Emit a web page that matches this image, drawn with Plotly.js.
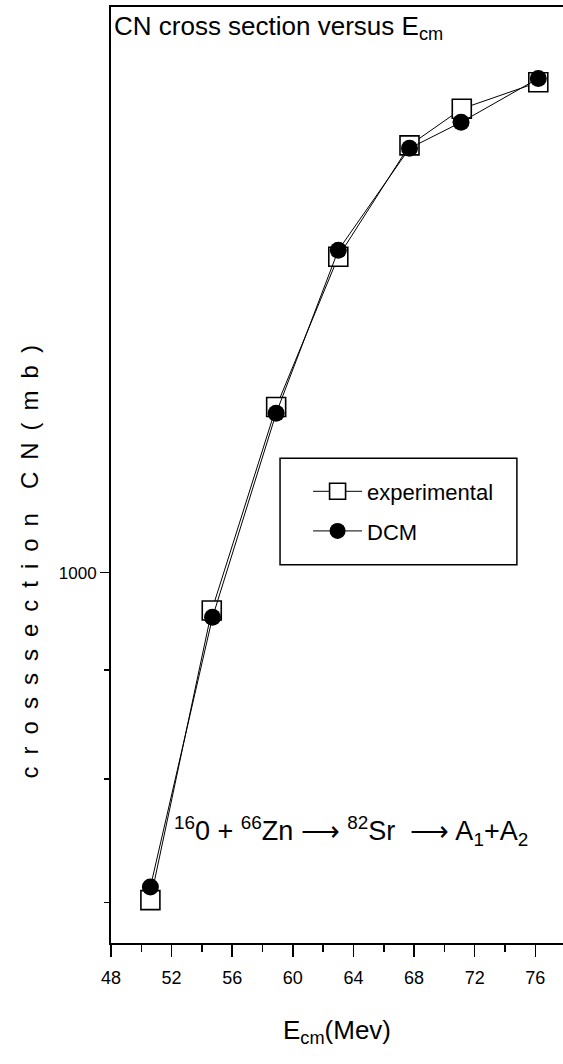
<!DOCTYPE html>
<html>
<head>
<meta charset="utf-8">
<script src="https://cdn.plot.ly/plotly-3.0.1.min.js"></script>
<style>html,body{margin:0;padding:0;background:#fff;overflow:hidden}</style>
</head>
<body>
<div id="chart" style="width:563px;height:1064px"></div>
<script>
// Data
const ecmExp = [50.6, 54.65, 58.9, 63.0, 67.7, 71.15, 76.2];
const sigmaExp = [702, 960, 1196, 1407, 1587, 1651, 1699];
const ecmDcm = [50.6, 54.7, 58.9, 63.0, 67.7, 71.1, 76.2];
const sigmaDcm = [712, 953, 1188, 1417, 1582, 1627, 1706];
const seriesNames = ["experimental", "DCM"];
const xTickVals = [48, 52, 56, 60, 64, 68, 72, 76];
const yTickVals = [1000];
const yTickText = ["1000"];
const yMinorVals = [700, 800, 900];

const FONT = "'Liberation Sans', Arial, sans-serif";

const traces = [
  {
    x: ecmExp, y: sigmaExp, name: seriesNames[0], legendgroup: "exp", type: "scatter", mode: "lines+markers",
    line: {color: "#000", width: 1},
    marker: {symbol: "square", size: 19, color: "#fff", line: {color: "#000", width: 1.6}}
  },
  {
    x: ecmDcm, y: sigmaDcm, name: seriesNames[1], legendgroup: "dcm", type: "scatter", mode: "lines+markers",
    line: {color: "#000", width: 1},
    marker: {symbol: "circle", size: 17, color: "#000", line: {color: "#000", width: 0}}
  }
];

const layout = {
  width: 563, height: 1064,
  margin: {l: 111, r: 0, t: 7, b: 121},
  paper_bgcolor: "#fff", plot_bgcolor: "#fff",
  font: {family: FONT, color: "#000", size: 18},
  showlegend: true,
  legend: {
    x: 0.436, y: 0.5048, xanchor: "left", yanchor: "top",
    bgcolor: "rgba(0,0,0,0)", borderwidth: 0,
    font: {family: FONT, size: 22, color: "#000"},
    itemwidth: 49, traceorder: "grouped", tracegroupgap: 8
  },
  xaxis: {
    range: [48, 77.83], tickvals: xTickVals, ticks: "outside", ticklen: 12, tickwidth: 1.5,
    tickcolor: "#000", showline: true, linewidth: 2, linecolor: "#000", mirror: true,
    showgrid: false, zeroline: false, ticklabelstandoff: 5,
    tickfont: {family: FONT, size: 18, color: "#000"},
    minor: {dtick: 2, ticks: "outside", ticklen: 7, tickwidth: 1.5, tickcolor: "#000", showgrid: false},
    title: {text: "E<sub>cm</sub>(Mev)", font: {family: FONT, size: 26, color: "#000"}, standoff: 34}
  },
  yaxis: {
    type: "log", range: [2.8262, 3.2655],
    tickvals: yTickVals, ticktext: yTickText, ticks: "outside", ticklen: 9, tickwidth: 1.5,
    tickcolor: "#000", showline: true, linewidth: 2, linecolor: "#000", mirror: false,
    showgrid: false, zeroline: false,
    tickfont: {family: FONT, size: 17, color: "#000"},
    minor: {tickvals: yMinorVals, ticks: "outside", ticklen: 5, tickwidth: 1.5, tickcolor: "#000", showgrid: false}
  },
  shapes: [
    {type: "rect", xref: "paper", yref: "paper", x0: 0.374, x1: 0.898, y0: 0.404, y1: 0.518,
     line: {color: "#000", width: 1.5}, fillcolor: "rgba(0,0,0,0)"}
  ],
  annotations: [
    {xref: "paper", yref: "paper", x: 0, y: 1, xanchor: "left", yanchor: "top", xshift: 1, yshift: -2,
     showarrow: false, text: "CN cross section versus E<sub>cm</sub>",
     font: {family: FONT, size: 26, color: "#000"}},
    {xref: "paper", yref: "paper", x: -0.1805, y: 0.407, xanchor: "center", yanchor: "middle",
     showarrow: false, textangle: -90,
     text: "c\u2002r\u2002o\u2002s\u2002s\u2002s\u2002e\u2002c\u2002t\u2002i\u2002o\u2002n\u2002\u2002C\u2002N\u2002(\u2002m\u2002b\u2002)",
     font: {family: FONT, size: 24, color: "#000"}},
    {xref: "paper", yref: "paper", x: 0.135, y: 0.1197, xanchor: "left", yanchor: "middle",
     showarrow: false,
     text: "<sup>16</sup>0 + <sup>66</sup>Zn \u27F6 <sup>82</sup>Sr \u00A0\u27F6 A<sub>1</sub>+A<sub>2</sub>",
     font: {family: FONT, size: 27, color: "#000"}}
  ]
};

Plotly.newPlot("chart", traces, layout, {displayModeBar: false, staticPlot: true});
</script>
</body>
</html>
